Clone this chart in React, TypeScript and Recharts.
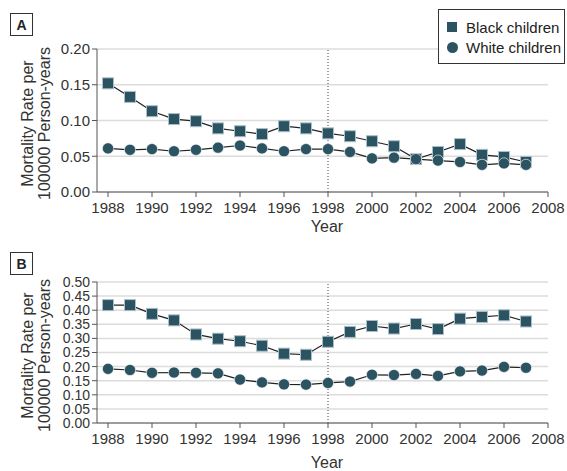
import React from 'react';
import { LineChart, Line, XAxis, YAxis, CartesianGrid, ReferenceLine } from 'recharts';

const years = [1988, 1989, 1990, 1991, 1992, 1993, 1994, 1995, 1996, 1997, 1998, 1999, 2000, 2001, 2002, 2003, 2004, 2005, 2006, 2007];

// Panel A
const blackA = [0.152, 0.133, 0.113, 0.102, 0.099, 0.089, 0.085, 0.081, 0.092, 0.089, 0.082, 0.078, 0.071, 0.064, 0.046, 0.056, 0.067, 0.052, 0.049, 0.042];
const whiteA = [0.061, 0.059, 0.060, 0.057, 0.059, 0.062, 0.065, 0.061, 0.057, 0.060, 0.060, 0.056, 0.047, 0.048, 0.046, 0.044, 0.042, 0.038, 0.040, 0.038];

// Panel B
const blackB = [0.418, 0.418, 0.387, 0.364, 0.314, 0.299, 0.290, 0.274, 0.246, 0.242, 0.288, 0.323, 0.344, 0.335, 0.351, 0.333, 0.370, 0.376, 0.382, 0.360];
const whiteB = [0.192, 0.188, 0.178, 0.179, 0.178, 0.176, 0.154, 0.144, 0.137, 0.136, 0.142, 0.147, 0.171, 0.170, 0.174, 0.167, 0.183, 0.186, 0.199, 0.196];

const xTicks = [1988, 1990, 1992, 1994, 1996, 1998, 2000, 2002, 2004, 2006, 2008];
const yTicksA = [0, 0.05, 0.1, 0.15, 0.2];
const yTicksB = [0, 0.05, 0.1, 0.15, 0.2, 0.25, 0.3, 0.35, 0.4, 0.45, 0.5];

const FONT = '"Liberation Sans", Arial, sans-serif';
const MARK = '#2b5361';
const AXIS = '#555';

const dataA = years.map((y, i) => ({ year: y, black: blackA[i], white: whiteA[i] }));
const dataB = years.map((y, i) => ({ year: y, black: blackB[i], white: whiteB[i] }));

const SquareDot = (props: any) => {
  const { cx, cy, index } = props;
  if (cx == null || cy == null) return <g key={`s-${index}`} />;
  return <rect key={`s-${index}`} x={cx - 5.5} y={cy - 5.5} width={11} height={11} fill={MARK} stroke="#a9c0c8" strokeWidth={1} />;
};

const CircleDot = (props: any) => {
  const { cx, cy, index } = props;
  if (cx == null || cy == null) return <g key={`c-${index}`} />;
  return <circle key={`c-${index}`} cx={cx} cy={cy} r={5.6} fill={MARK} stroke="#ffffff" strokeWidth={0.6} />;
};

const yLabel = (props: any) => {
  const vb = props.viewBox || {};
  const cy = vb.y + vb.height / 2 + 3;
  return (
    <g>
      <text x={33} y={cy} transform={`rotate(-90 33 ${cy})`} textAnchor="middle" fontSize={16} fill="#333" fontFamily={FONT}>
        Mortality Rate per
      </text>
      <text x={50} y={cy} transform={`rotate(-90 50 ${cy})`} textAnchor="middle" fontSize={16} fill="#333" fontFamily={FONT}>
        100000 Person-years
      </text>
    </g>
  );
};

const xLabel = (offset: number) => (props: any) => {
  const vb = props.viewBox || {};
  return (
    <text x={327} y={vb.y + offset} textAnchor="middle" fontSize={16} fill="#333" fontFamily={FONT}>
      Year
    </text>
  );
};

const LegendBox = () => (
  <div
    style={{
      position: 'absolute', left: 438, top: 9, width: 125, height: 53, border: '1px solid #333',
      fontFamily: FONT, fontSize: 15, color: '#222', background: '#fff',
    }}
  >
    <div style={{ display: 'flex', alignItems: 'center', height: 18, marginTop: 8 }}>
      <div style={{ width: 10, height: 10, background: MARK, marginLeft: 8, marginRight: 9 }} />
      <span>Black children</span>
    </div>
    <div style={{ display: 'flex', alignItems: 'center', height: 18, marginTop: 2 }}>
      <div style={{ width: 11, height: 11, borderRadius: '50%', background: MARK, marginLeft: 7.5, marginRight: 8.5 }} />
      <span>White children</span>
    </div>
  </div>
);

const panelBox = (label: string, top: number) => (
  <div
    style={{
      position: 'absolute', left: 10, top, width: 21, height: 21, border: '1px solid #333',
      fontFamily: FONT, fontWeight: 'bold', fontSize: 14, color: '#222',
      display: 'flex', alignItems: 'center', justifyContent: 'center', background: '#fff',
    }}
  >
    {label}
  </div>
);

const tickStyle = { fontSize: 15, fill: '#333', fontFamily: FONT };

const Panel = ({ data, yTicks, yMax, marginTop, height, yearOffset, yFont }: any) => (
  <LineChart width={567} height={height} data={data} margin={{ top: marginTop, right: 19, left: 37, bottom: 8 }}>
    <CartesianGrid vertical={false} stroke="#dcdcdc" strokeWidth={1.5} />
    <XAxis
      dataKey="year"
      type="number"
      domain={[1987.5, 2008]}
      ticks={xTicks}
      allowDataOverflow
      height={40}
      tick={tickStyle}
      tickSize={5}
      tickMargin={5}
      stroke={AXIS}
      label={{ content: xLabel(yearOffset) }}
    />
    <YAxis
      type="number"
      domain={[0, yMax]}
      ticks={yTicks}
      allowDataOverflow
      width={60}
      tick={{ ...tickStyle, fontSize: yFont }}
      tickSize={5}
      tickMargin={2}
      stroke={AXIS}
      interval={0}
      tickFormatter={(v: number) => v.toFixed(2)}
      label={{ content: yLabel }}
    />
    <ReferenceLine x={1998} stroke="#444" strokeDasharray="1 2" strokeWidth={1} />
    <Line dataKey="black" stroke="#222" strokeWidth={1.2} dot={SquareDot} isAnimationActive={false} />
    <Line dataKey="white" stroke="#222" strokeWidth={1.2} dot={CircleDot} isAnimationActive={false} />
  </LineChart>
);

export default function App() {
  return (
    <div style={{ position: 'absolute', left: 0, top: 0, width: 567, height: 471, background: '#fff' }}>
      <div style={{ position: 'absolute', left: 0, top: 0 }}>
        <Panel data={dataA} yTicks={yTicksA} yMax={0.2} marginTop={49} height={240} yearOffset={40} yFont={15} />
      </div>
      <div style={{ position: 'absolute', left: 0, top: 240 }}>
        <Panel data={dataB} yTicks={yTicksB} yMax={0.5} marginTop={42} height={231} yearOffset={45} yFont={14} />
      </div>
      <LegendBox />
      {panelBox('A', 13)}
      {panelBox('B', 252)}
    </div>
  );
}
